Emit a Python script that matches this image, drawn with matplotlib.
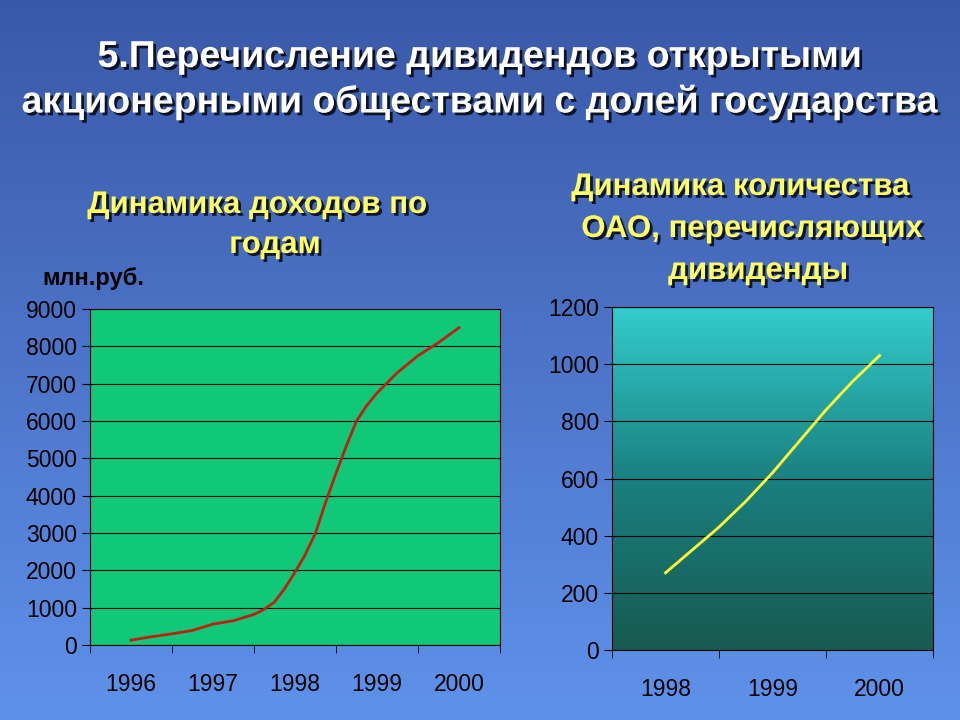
import numpy as np
import matplotlib
matplotlib.use("Agg")
import matplotlib.pyplot as plt
import matplotlib.patheffects as pe
from matplotlib.colors import LinearSegmentedColormap

years_left = ["1996", "1997", "1998", "1999", "2000"]
left_pos = [0, 0.25, 0.5, 0.75, 1, 1.25, 1.5, 1.62, 1.75, 1.87, 2, 2.12, 2.25, 2.37, 2.5, 2.62, 2.75, 2.87, 3, 3.25, 3.5, 3.75, 4]
left_vals = [130, 220, 300, 390, 560, 650, 820, 950, 1150, 1500, 1950, 2400, 3000, 3800, 4600, 5300, 6000, 6400, 6750, 7300, 7750, 8100, 8500]
years_right = ["1998", "1999", "2000"]
right_pos = [0, 0.25, 0.5, 0.75, 1, 1.25, 1.5, 1.75, 2]
right_vals = [270, 350, 430, 520, 620, 730, 840, 940, 1030]

W, H = 960, 720
fig = plt.figure(figsize=(9.6, 7.2), dpi=100)
bg = fig.add_axes([0, 0, 1, 1]); bg.set_axis_off()
grad = np.linspace(0, 1, 256).reshape(-1, 1)
cm_bg = LinearSegmentedColormap.from_list("bg", ["#3a58a8", "#5f92ea"])
bg.imshow(grad, aspect="auto", cmap=cm_bg, extent=[0, 1, 0, 1], origin="upper")
bg.set_xlim(0, 1); bg.set_ylim(0, 1)

sh = [pe.withSimplePatchShadow(offset=(2, -2), shadow_rgbFace="black", alpha=0.8)]
def t(x, y, s, size, color):
    fig.text(x / W, 1 - y / H, s, fontsize=size, color=color, fontweight="bold",
             family="Liberation Sans", ha="center", va="center", path_effects=sh)

t(480, 57, "5.Перечисление дивидендов открытыми", 27, "white")
t(480, 102, "акционерными обществами с долей государства", 27, "white")
t(257, 205, "Динамика доходов по", 22.5, "#ffff66")
t(275, 245, "годам", 22.5, "#ffff66")
t(740, 187, "Динамика количества", 22.5, "#ffff66")
t(752, 229, "ОАО, перечисляющих", 22.5, "#ffff66")
t(758, 271, "дивиденды", 22.5, "#ffff66")
fig.text(93 / W, 1 - 279 / H, "млн.руб.", fontsize=17, color="black", fontweight="bold",
         family="Liberation Sans", ha="center", va="center")

ax1 = fig.add_axes([90 / W, 1 - 645 / H, 410 / W, 336 / H])
ax1.set_facecolor("#10c878")
ax1.set_xlim(-0.5, 4.5); ax1.set_ylim(0, 9000)
ax1.set_yticks(range(0, 9001, 1000))
ax1.yaxis.grid(True, color="black", lw=0.8)
ax1.set_axisbelow(True)
ax1.plot(left_pos, left_vals, color="#c02010", lw=2)
ax1.set_xticks(range(5)); ax1.set_xticklabels(years_left)
ax1.set_xticks(np.arange(-0.5, 4.6, 1), minor=True)
ax1.tick_params(axis="x", which="major", length=0, pad=20)
ax1.tick_params(axis="x", which="minor", length=6, color="black")
ax1.tick_params(axis="y", length=6, color="black")

ax2 = fig.add_axes([612 / W, 1 - 650 / H, 321 / W, 343 / H])
ax2.set_xlim(-0.5, 2.5); ax2.set_ylim(0, 1200)
cm_r = LinearSegmentedColormap.from_list("r", ["#33cccc", "#1a8080", "#175a50"])
ax2.imshow(grad, aspect="auto", cmap=cm_r, extent=[-0.5, 2.5, 0, 1200], origin="upper", zorder=0)
ax2.set_yticks(range(0, 1201, 200))
ax2.yaxis.grid(True, color="black", lw=0.8)
ax2.plot(right_pos, right_vals, color="#ffff33", lw=2, zorder=3)
ax2.set_xticks(range(3)); ax2.set_xticklabels(years_right)
ax2.set_xticks(np.arange(-0.5, 2.6, 1), minor=True)
ax2.tick_params(axis="x", which="major", length=0, pad=20)
ax2.tick_params(axis="x", which="minor", length=6, color="black")
ax2.tick_params(axis="y", length=6, color="black")

for ax in (ax1, ax2):
    for s in ax.spines.values():
        s.set_color("black")
    for lab in ax.get_xticklabels() + ax.get_yticklabels():
        lab.set_fontsize(16.5); lab.set_family("Liberation Sans"); lab.set_color("black")

fig.savefig("out.png", dpi=100)
